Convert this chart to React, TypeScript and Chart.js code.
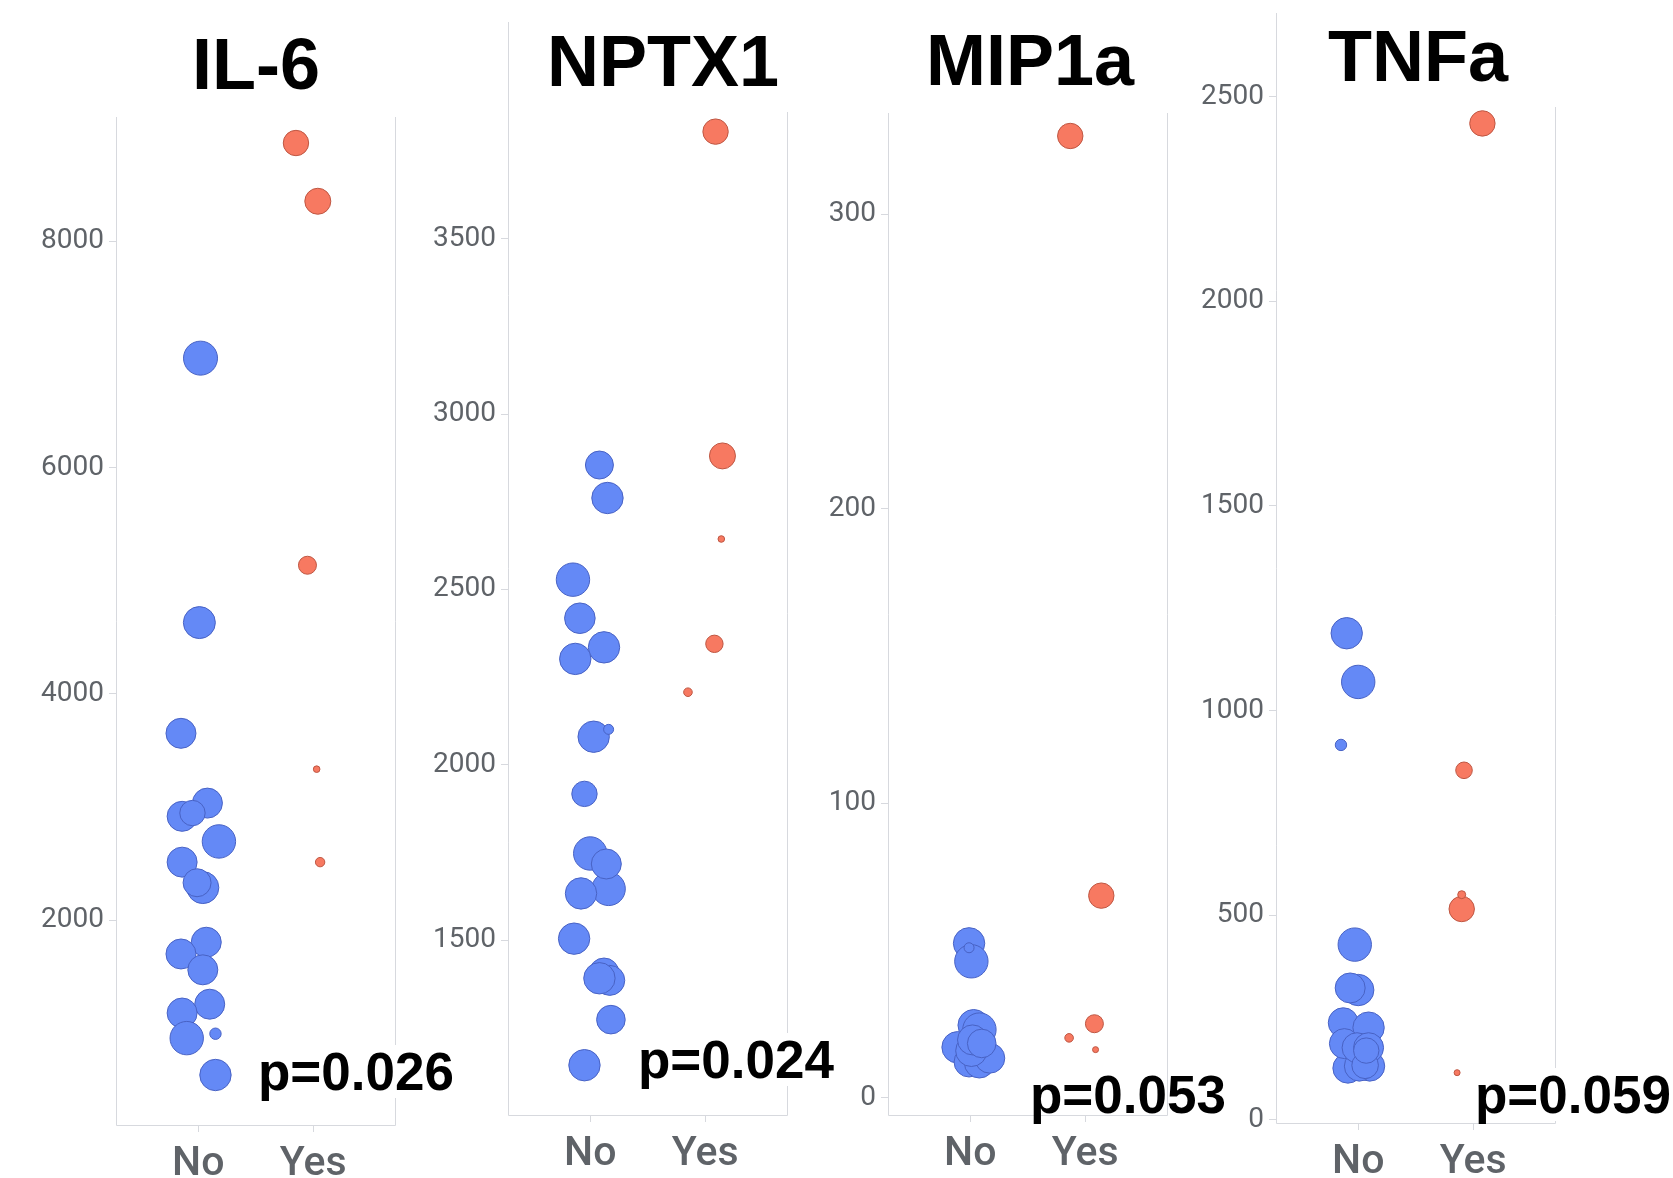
import React, { useEffect, useRef } from 'react';
import { Chart, registerables } from 'chart.js';

Chart.register(...registerables);

// ---------- data ----------
const categories = ['No', 'Yes'];
const titles = ['IL-6', 'NPTX1', 'MIP1a', 'TNFa'];
const pLabels = ['p=0.026', 'p=0.024', 'p=0.053', 'p=0.059'];

// IL-6
const il6NoValues = [6968, 4630, 3651, 3034, 2917, 2946, 2695, 2512, 2287, 2330, 1804, 1700, 1560, 1256, 1178, 956, 995, 630];
const il6NoJitter = [0.02, 0.01, -0.15, 0.08, -0.14, -0.05, 0.18, -0.14, 0.04, -0.01, 0.07, -0.15, 0.04, 0.1, -0.14, -0.1, 0.15, 0.15];
const il6NoSize = [17, 16, 15, 15, 15, 12.7, 16.7, 15, 16, 14, 15, 15, 15, 15, 15, 16.7, 5.7, 15.7];
const il6YesValues = [8870, 8355, 5137, 3334, 2512];
const il6YesJitter = [-0.15, 0.04, -0.05, 0.03, 0.06];
const il6YesSize = [12.7, 13, 9, 3.3, 4.7];
const il6Ticks = [2000, 4000, 6000, 8000];

// NPTX1
const nptx1NoValues = [2855, 2761, 2528, 2418, 2335, 2302, 2080, 2101, 1917, 1646, 1747, 1633, 1717, 1504, 1406, 1385, 1391, 1273, 1143];
const nptx1NoJitter = [0.08, 0.15, -0.15, -0.09, 0.12, -0.13, 0.03, 0.16, -0.05, 0.16, 0.0, -0.08, 0.14, -0.14, 0.12, 0.17, 0.08, 0.18, -0.05];
const nptx1NoSize = [14, 15.7, 16.7, 15.3, 15.7, 15.7, 15.7, 5, 12.7, 16.7, 16.7, 15.7, 15, 15.7, 15, 15, 15.7, 14.3, 15.7];
const nptx1YesValues = [3806, 2881, 2644, 2345, 2207];
const nptx1YesJitter = [0.09, 0.15, 0.14, 0.08, -0.15];
const nptx1YesSize = [12.7, 13, 3.3, 8.7, 4.3];
const nptx1Ticks = [1500, 2000, 2500, 3000, 3500];

// MIP1a
const mip1aNoValues = [52.4, 46.3, 50.9, 24.6, 23.1, 17.1, 12.1, 11.75, 13.4, 15.9, 19.6, 18.4];
const mip1aNoJitter = [-0.01, 0.01, -0.01, 0.03, 0.08, -0.11, -0.01, 0.08, 0.17, 0.01, 0.02, 0.1];
const mip1aNoSize = [15.7, 16.7, 5, 15.7, 16.7, 15.7, 15, 15, 15, 15.7, 15, 14.3];
const mip1aYesValues = [326.6, 68.6, 25.1, 20.3, 16.3];
const mip1aYesJitter = [-0.13, 0.14, 0.08, -0.14, 0.09];
const mip1aYesSize = [12.7, 12.7, 9, 4.3, 3];
const mip1aTicks = [0, 100, 200, 300];

// TNFa
const tnfaNoValues = [1189, 1070, 916, 428, 317, 322, 237, 225, 126, 131, 131, 186, 176, 176, 133, 169];
const tnfaNoJitter = [-0.1, 0.0, -0.15, -0.03, 0.0, -0.07, -0.13, 0.09, -0.09, 0.1, 0.01, -0.12, -0.01, 0.09, 0.06, 0.07];
const tnfaNoSize = [15.7, 16.7, 5.7, 16.7, 15.7, 15, 15, 15.7, 15, 15, 15, 15, 15, 15, 13.3, 12.7];
const tnfaYesValues = [2435, 854, 515, 550, 115];
const tnfaYesJitter = [0.08, -0.08, -0.1, -0.1, -0.14];
const tnfaYesSize = [12.7, 8.3, 12.7, 4, 3];
const tnfaTicks = [0, 500, 1000, 1500, 2000, 2500];

// ---------- styles / layout ----------
const PAGE_W = 1673;
const PAGE_H = 1178;
const CANVAS_SHIFT = 24; // canvas starts above the page so bubble overflow padding never moves the plot
const Y_AXIS_W = 120;
const FRAME_W = 280;
const RIGHT_PAD = 24;
const X_MIN = -0.715;
const X_MAX = 1.72;
const BLUE = 'rgb(100,137,246)';
const BLUE_EDGE = 'rgb(72,98,196)';
const RED = 'rgb(247,121,97)';
const RED_EDGE = 'rgb(190,86,66)';
const LINE = '#d7d9de';
const GRAY_TEXT = '#5f6368';

type Group = { values: number[]; jitter: number[]; size: number[] };
type PanelCfg = {
  title: string;
  p: string;
  ticks: number[];
  no: Group;
  yes: Group;
  frameLeft: number;
  frameBottom: number;
  chartTop: number;
  leftLineTop: number;
  rightLineTop: number;
  yMin: number;
  yMax: number;
  titleX: number;
  titleBase: number;
  pLeft: number;
  pBase: number;
  pBg: boolean;
};

const panels: PanelCfg[] = [
  {
    title: titles[0], p: pLabels[0], ticks: il6Ticks,
    no: { values: il6NoValues, jitter: il6NoJitter, size: il6NoSize },
    yes: { values: il6YesValues, jitter: il6YesJitter, size: il6YesSize },
    frameLeft: 116, frameBottom: 1125, chartTop: 117, leftLineTop: 117, rightLineTop: 117,
    yMin: 188, yMax: 9100, titleX: 256, titleBase: 89, pLeft: 258, pBase: 1090, pBg: true,
  },
  {
    title: titles[1], p: pLabels[1], ticks: nptx1Ticks,
    no: { values: nptx1NoValues, jitter: nptx1NoJitter, size: nptx1NoSize },
    yes: { values: nptx1YesValues, jitter: nptx1YesJitter, size: nptx1YesSize },
    frameLeft: 508, frameBottom: 1115, chartTop: 112, leftLineTop: 22, rightLineTop: 112,
    yMin: 1001, yMax: 3862, titleX: 663, titleBase: 86, pLeft: 638, pBase: 1078, pBg: true,
  },
  {
    title: titles[2], p: pLabels[2], ticks: mip1aTicks,
    no: { values: mip1aNoValues, jitter: mip1aNoJitter, size: mip1aNoSize },
    yes: { values: mip1aYesValues, jitter: mip1aYesJitter, size: mip1aYesSize },
    frameLeft: 888, frameBottom: 1115, chartTop: 113, leftLineTop: 113, rightLineTop: 113,
    yMin: -5.9, yMax: 334.4, titleX: 1030, titleBase: 85, pLeft: 1030, pBase: 1113, pBg: false,
  },
  {
    title: titles[3], p: pLabels[3], ticks: tnfaTicks,
    no: { values: tnfaNoValues, jitter: tnfaNoJitter, size: tnfaNoSize },
    yes: { values: tnfaYesValues, jitter: tnfaYesJitter, size: tnfaYesSize },
    frameLeft: 1276, frameBottom: 1123, chartTop: 15, leftLineTop: 13, rightLineTop: 107,
    yMin: -8, yMax: 2700, titleX: 1418, titleBase: 81, pLeft: 1475, pBase: 1113, pBg: true,
  },
];

function toPoints(g: Group, catIndex: number) {
  return g.values.map((v, i) => ({ x: catIndex + g.jitter[i], y: v, r: g.size[i] }));
}

function Panel({ cfg }: { cfg: PanelCfg }) {
  const ref = useRef<HTMLCanvasElement | null>(null);
  const W = Y_AXIS_W + FRAME_W + RIGHT_PAD;
  const H = PAGE_H + CANVAS_SHIFT;

  useEffect(() => {
    if (!ref.current) return;
    const framePlugin = {
      id: 'frame',
      beforeDatasetsDraw(chart: any) {
        const { ctx, chartArea } = chart;
        const l = Math.round(chartArea.left) + 0.5;
        const r = Math.round(chartArea.right) - 0.5;
        const b = Math.round(chartArea.bottom) + 0.5;
        ctx.save();
        ctx.strokeStyle = LINE;
        ctx.lineWidth = 1;
        ctx.beginPath();
        ctx.moveTo(l, cfg.leftLineTop + CANVAS_SHIFT);
        ctx.lineTo(l, b);
        ctx.lineTo(r, b);
        ctx.lineTo(r, cfg.rightLineTop + CANVAS_SHIFT);
        ctx.stroke();
        ctx.restore();
      },
    };

    const chart = new Chart(ref.current, {
      type: 'bubble',
      data: {
        datasets: [
          {
            data: toPoints(cfg.no, 0),
            backgroundColor: BLUE,
            borderColor: BLUE_EDGE,
            borderWidth: 1,
            clip: false as any,
          },
          {
            data: toPoints(cfg.yes, 1),
            backgroundColor: RED,
            borderColor: RED_EDGE,
            borderWidth: 1,
            clip: false as any,
          },
        ],
      },
      options: {
        responsive: false,
        animation: false,
        devicePixelRatio: 1,
        events: [],
        layout: { padding: { top: cfg.chartTop + CANVAS_SHIFT, right: RIGHT_PAD, left: 0, bottom: 0 } },
        plugins: { legend: { display: false }, tooltip: { enabled: false } },
        scales: {
          x: {
            type: 'linear',
            min: X_MIN,
            max: X_MAX,
            afterFit: (s: any) => {
              s.height = PAGE_H - cfg.frameBottom;
            },
            afterBuildTicks: (s: any) => {
              s.ticks = categories.map((_, i) => ({ value: i }));
            },
            ticks: {
              callback: (v: any) => categories[Math.round(Number(v))],
              font: { family: 'Roboto', size: 41, weight: '500' as any },
              color: GRAY_TEXT,
              padding: 8,
              autoSkip: false,
              maxRotation: 0,
            },
            grid: { drawOnChartArea: false, drawTicks: true, tickLength: 7, color: LINE },
            border: { display: false },
          },
          y: {
            type: 'linear',
            min: cfg.yMin,
            max: cfg.yMax,
            afterFit: (s: any) => {
              s.width = Y_AXIS_W;
            },
            afterBuildTicks: (s: any) => {
              s.ticks = cfg.ticks.map((v) => ({ value: v }));
            },
            ticks: {
              callback: (v: any) => String(v),
              font: { family: 'Roboto', size: 28, weight: '400' as any },
              color: GRAY_TEXT,
              padding: 5,
              autoSkip: false,
            },
            grid: { drawOnChartArea: false, drawTicks: true, tickLength: 7, color: LINE },
            border: { display: false },
          },
        },
      } as any,
      plugins: [framePlugin],
    });
    return () => chart.destroy();
  }, [cfg]);

  return (
    <canvas
      ref={ref}
      width={W}
      height={H}
      style={{
        position: 'absolute',
        left: cfg.frameLeft - Y_AXIS_W,
        top: -CANVAS_SHIFT,
        width: W,
        height: H,
      }}
    />
  );
}

const BOLD_FONT = '"Liberation Sans", Arial, Helvetica, sans-serif';
const TITLE_SIZE = 72;
const P_SIZE = 53;

export default function App() {
  return (
    <div
      style={{
        position: 'absolute',
        left: 0,
        top: 0,
        width: PAGE_W,
        height: PAGE_H,
        overflow: 'hidden',
        background: '#ffffff',
      }}
    >
      {panels.map((cfg, i) => (
        <Panel key={'c' + i} cfg={cfg} />
      ))}
      {panels.map((cfg, i) => (
        <div
          key={'t' + i}
          style={{
            position: 'absolute',
            left: cfg.titleX,
            top: cfg.titleBase - 0.8465 * TITLE_SIZE,
            transform: 'translateX(-50%)',
            fontFamily: BOLD_FONT,
            fontWeight: 700,
            fontSize: TITLE_SIZE,
            lineHeight: TITLE_SIZE + 'px',
            color: '#000',
            whiteSpace: 'nowrap',
          }}
        >
          {cfg.title}
        </div>
      ))}
      {panels.map((cfg, i) => (
        <div
          key={'p' + i}
          style={{
            position: 'absolute',
            left: cfg.pLeft,
            top: cfg.pBase - 0.8465 * P_SIZE,
            fontFamily: BOLD_FONT,
            fontWeight: 700,
            fontSize: P_SIZE,
            lineHeight: P_SIZE + 'px',
            color: '#000',
            whiteSpace: 'nowrap',
            background: cfg.pBg ? '#ffffff' : 'transparent',
          }}
        >
          {cfg.p}
        </div>
      ))}
    </div>
  );
}
